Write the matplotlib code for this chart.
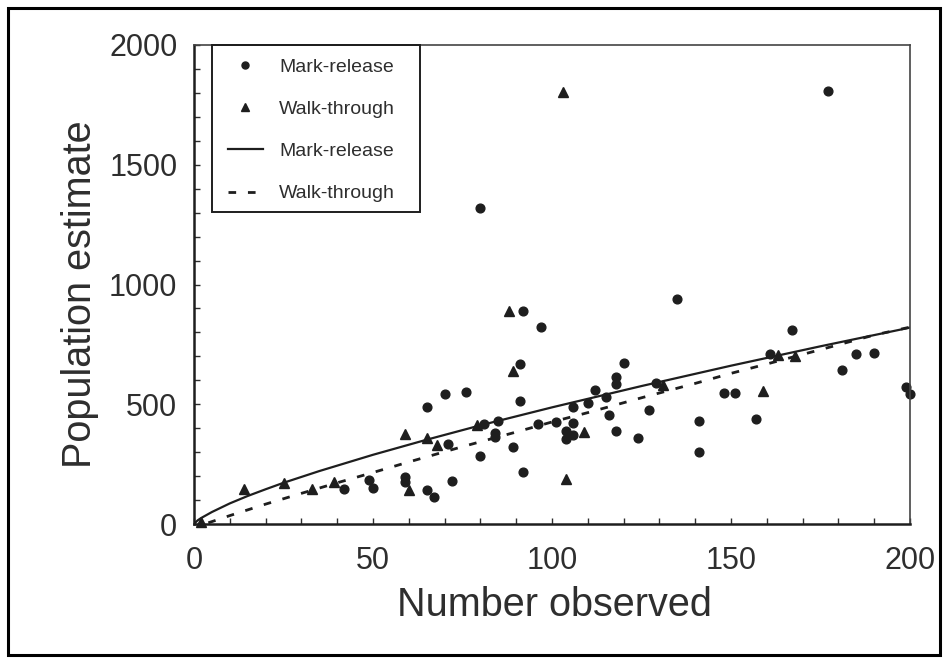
import numpy as np
import matplotlib
matplotlib.use('Agg')
import matplotlib.pyplot as plt
from matplotlib.patches import Rectangle

plt.rcParams['font.family'] = ['Liberation Sans', 'DejaVu Sans']
plt.rcParams['lines.scale_dashes'] = False

# Mark-release estimates (circles)
mr_x = [80, 177, 135, 92, 97, 91, 70, 76, 65, 91, 81, 85, 84, 84, 71, 80, 89, 92, 96,
        49, 50, 59, 59, 65, 67, 72, 42, 101, 106, 110, 112, 115, 116, 118, 118, 120,
        118, 124, 127, 129, 106, 104, 106, 104, 141, 141, 148, 151, 157, 161, 167,
        181, 185, 190, 199, 200]
mr_y = [1320, 1810, 938, 890, 824, 667, 543, 553, 488, 515, 418, 429, 379, 365, 332,
        282, 321, 218, 417, 182, 150, 195, 174, 143, 114, 181, 145, 424, 487, 507,
        559, 530, 456, 612, 583, 673, 388, 361, 474, 590, 420, 390, 372, 354, 429,
        302, 545, 545, 437, 709, 809, 642, 708, 712, 571, 541]

# Walk-through estimates (triangles)
wt_x = [103, 88, 89, 14, 25, 33, 39, 59, 65, 68, 79, 60, 104, 109, 131, 159, 163, 168, 2]
wt_y = [1805, 890, 638, 145, 172, 145, 175, 374, 358, 330, 415, 142, 187, 385, 580,
        555, 704, 702, 8]

# fitted curves
fit_mr_x = [0, 1, 2, 5, 10, 15, 20, 25, 35, 50, 65, 80, 100, 125, 150, 175, 200]
fit_mr_y = [0, 15, 25, 50, 86, 117, 145, 172, 221, 289, 352, 412, 487, 576, 661, 742, 820]
fit_wt_x = [4, 10, 20, 30, 40, 50, 60, 75, 90, 100, 110, 125, 140, 150, 160, 175, 190, 200]
fit_wt_y = [5, 35, 83, 128, 172, 215, 259, 323, 384, 426, 465, 527, 587, 629, 668, 728, 789, 822]

ink = '#1e1e1e'
txt = '#2e2e2e'

fig = plt.figure(figsize=(9.48, 6.62), dpi=100)
ax = fig.add_axes([194/948, 1-524/662, 716/948, 479/662])

l1, = ax.plot(mr_x, mr_y, 'o', ms=6.3, color=ink, clip_on=False, label='Mark-release')
l2, = ax.plot(wt_x, wt_y, '^', ms=6.5, color=ink, clip_on=False, label='Walk-through')
l3, = ax.plot(fit_mr_x, fit_mr_y, '-', lw=1.6, color=ink, label='Mark-release')
l4, = ax.plot(fit_wt_x, fit_wt_y, lw=2, color=ink, dashes=(5.5, 8.5), label='Walk-through')

ax.set_xlim(0, 200)
ax.set_ylim(0, 2000)
ax.set_xticks(np.arange(0, 201, 50))
ax.set_xticks(np.arange(0, 201, 10), minor=True)
ax.set_yticks(np.arange(0, 2001, 500))
ax.set_yticks(np.arange(0, 2001, 100), minor=True)
ax.tick_params(which='both', direction='in', length=4, width=1, color=txt,
               labelcolor=txt, labelsize=22)
ax.tick_params(axis='y', pad=12)
ax.tick_params(axis='x', pad=16)

for s in ['left', 'bottom']:
    ax.spines[s].set_linewidth(1.8)
    ax.spines[s].set_color(ink)
for s in ['top', 'right']:
    ax.spines[s].set_linewidth(1.2)
    ax.spines[s].set_color('#444444')

ax.set_xlabel('Number observed', fontsize=28.5, color=txt)
ax.set_ylabel('Population estimate', fontsize=28.5, color=txt)
ax.xaxis.set_label_coords(0.504, -0.13)
ax.yaxis.set_label_coords(-0.133, 0.48)

leg = ax.legend(handles=[l1, l2, l3, l4], loc='upper left', bbox_to_anchor=(0.047, 0.972),
                frameon=False, fontsize=14, handlelength=1.8, handletextpad=0.86,
                labelspacing=1.26, borderpad=0, borderaxespad=0, markerscale=0.8)
for t in leg.get_texts():
    t.set_color(txt)
ax.add_patch(Rectangle((18/716, 1-167/479), 208/716, 167/479, transform=ax.transAxes,
                       fill=False, lw=1.4, ec=ink, clip_on=False, zorder=5))

fig.patches.append(Rectangle((8/948, 1-655/662), 932/948, 647/662, transform=fig.transFigure,
                             fill=False, lw=2.2, ec='black'))

fig.savefig('out.png', dpi=100)
